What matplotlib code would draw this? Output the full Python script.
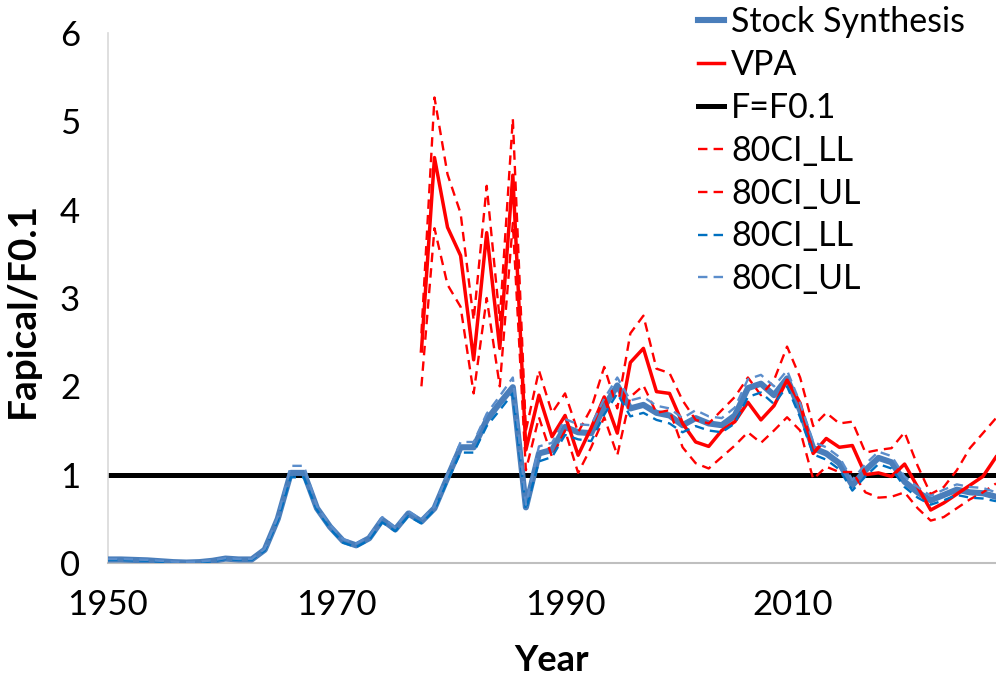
import matplotlib
matplotlib.use("Agg")
import matplotlib.pyplot as plt
import numpy as np

plt.rcParams['font.family'] = ['Lato', 'DejaVu Sans']

years = list(range(1950, 2019))
ss = [0.04, 0.04, 0.035, 0.03, 0.02, 0.01, 0.005, 0.01, 0.025, 0.05,
      0.04, 0.04, 0.15, 0.5, 1.02, 1.02, 0.62, 0.41, 0.25, 0.2,
      0.28, 0.49, 0.38, 0.56, 0.47, 0.62, 0.97, 1.31, 1.31, 1.62,
      1.81, 1.99, 0.63, 1.24, 1.28, 1.54, 1.48, 1.47, 1.77, 2.01,
      1.75, 1.79, 1.7, 1.67, 1.56, 1.64, 1.58, 1.56, 1.67, 1.98,
      2.03, 1.9, 2.09, 1.73, 1.3, 1.24, 1.13, 0.88, 1.05, 1.19,
      1.14, 0.92, 0.8, 0.71, 0.77, 0.83, 0.8, 0.79, 0.75]
ss_ll = [0.035, 0.035, 0.03, 0.025, 0.015, 0.005, 0.0, 0.005, 0.02, 0.045,
         0.035, 0.035, 0.14, 0.48, 0.97, 0.97, 0.6, 0.39, 0.23, 0.18,
         0.26, 0.46, 0.36, 0.53, 0.45, 0.6, 0.93, 1.25, 1.25, 1.55,
         1.73, 1.92, 0.6, 1.15, 1.2, 1.45, 1.4, 1.38, 1.68, 1.92,
         1.66, 1.7, 1.62, 1.58, 1.48, 1.55, 1.5, 1.48, 1.58, 1.88,
         1.93, 1.8, 2.0, 1.65, 1.23, 1.17, 1.06, 0.82, 0.98, 1.12,
         1.07, 0.86, 0.74, 0.66, 0.71, 0.77, 0.74, 0.73, 0.7]
ss_ul = [0.045, 0.045, 0.04, 0.035, 0.025, 0.015, 0.01, 0.015, 0.03, 0.055,
         0.045, 0.045, 0.16, 0.52, 1.1, 1.1, 0.64, 0.43, 0.27, 0.22,
         0.3, 0.52, 0.4, 0.59, 0.49, 0.64, 1.01, 1.37, 1.37, 1.69,
         1.89, 2.1, 0.66, 1.32, 1.36, 1.63, 1.57, 1.56, 1.86, 2.1,
         1.84, 1.88, 1.78, 1.75, 1.64, 1.73, 1.66, 1.64, 1.76, 2.08,
         2.13, 2.0, 2.18, 1.81, 1.37, 1.31, 1.2, 0.94, 1.12, 1.26,
         1.21, 0.98, 0.86, 0.76, 0.83, 0.89, 0.86, 0.85, 0.8]

vpa_years = list(range(1974, 2019))
vpa = [2.4, 4.59, 3.8, 3.48, 2.3, 3.74, 2.43, 4.39, 1.28, 1.9,
       1.43, 1.67, 1.22, 1.53, 1.88, 1.47, 2.27, 2.43, 1.94, 1.92,
       1.58, 1.37, 1.32, 1.5, 1.6, 1.82, 1.62, 1.78, 2.07, 1.81,
       1.24, 1.41, 1.31, 1.33, 1.0, 1.02, 0.98, 1.12, 0.86, 0.6,
       0.68, 0.78, 0.88, 0.98, 1.2]
vpa_ll = [2.0, 3.79, 3.15, 2.9, 1.92, 3.0, 2.0, 3.85, 1.05, 1.65,
          1.2, 1.5, 1.02, 1.31, 1.65, 1.22, 1.88, 2.01, 1.7, 1.73,
          1.31, 1.13, 1.07, 1.2, 1.33, 1.48, 1.36, 1.5, 1.65, 1.5,
          0.95, 1.09, 1.03, 1.03, 0.8, 0.74, 0.75, 0.8, 0.62, 0.48,
          0.52, 0.62, 0.72, 0.8, 0.9]
vpa_ul = [2.6, 5.27, 4.4, 3.96, 2.75, 4.27, 2.75, 5.03, 1.5, 2.18,
          1.7, 1.92, 1.48, 1.75, 2.22, 1.75, 2.6, 2.8, 2.2, 2.15,
          1.84, 1.62, 1.58, 1.73, 1.88, 2.1, 1.9, 2.07, 2.45, 2.1,
          1.55, 1.7, 1.58, 1.6, 1.25, 1.28, 1.3, 1.48, 1.1, 0.78,
          0.86, 1.05, 1.3, 1.47, 1.64]
f01 = [1.0] * len(years)

xtick_labels = ["1950", "1970", "1990", "2010"]
xtick_pos = [1950, 1967.5, 1985.0, 2002.4]
ytick_vals = [0, 1, 2, 3, 4, 5, 6]

W, H = 996, 678
fig = plt.figure(figsize=(W / 100, H / 100), dpi=100)
ax = fig.add_axes([108 / W, (H - 563) / H, (996 - 108) / W, (563 - 33) / H])

c_ss = '#4A7EBB'
l_ss, = ax.plot(years, ss, color=c_ss, lw=4.4, zorder=3, solid_joinstyle='round', label='Stock Synthesis')
l_vpa, = ax.plot(vpa_years, vpa, color='#FF0000', lw=2.5, zorder=4, label='VPA')
l_f, = ax.plot(years, f01, color='black', lw=3.6, zorder=2, label='F=F0.1')
dash = (0, (4, 2.6))
l1, = ax.plot(vpa_years, vpa_ll, color='#FF0000', lw=1.7, ls=dash, zorder=5, label='80CI_LL')
l2, = ax.plot(vpa_years, vpa_ul, color='#FF0000', lw=1.7, ls=dash, zorder=5, label='80CI_UL')
l3, = ax.plot(years, ss_ll, color='#0070C0', lw=1.7, ls=dash, zorder=5, label='80CI_LL')
l4, = ax.plot(years, ss_ul, color='#5B8DCB', lw=1.7, ls=dash, zorder=5, label='80CI_UL')

ax.set_xlim(1950, 2018)
ax.set_ylim(0, 6)
ax.set_xticks(xtick_pos)
ax.set_xticklabels(xtick_labels)
ax.set_yticks(ytick_vals)
ax.tick_params(axis='both', length=0, labelsize=25)
ax.tick_params(axis='x', pad=19)
ax.tick_params(axis='y', pad=20)
for s in ['top', 'right']:
    ax.spines[s].set_visible(False)
ax.spines['left'].set_color('#D9D9D9')
ax.spines['left'].set_linewidth(1.2)
ax.spines['bottom'].set_color('#BFBFBF')
ax.spines['bottom'].set_linewidth(1.5)

ax.set_xlabel('Year', fontsize=26, fontweight='bold')
ax.set_ylabel('Fapical/F0.1', fontsize=28, fontweight='bold')
ax.xaxis.set_label_coords(0.5, -0.152)
ax.yaxis.set_label_coords(-0.0766, 0.477)

leg = ax.legend(handles=[l_ss, l_vpa, l_f, l1, l2, l3, l4], loc='upper left',
                bbox_to_anchor=(698 / W, 1 - 6 / H), bbox_transform=fig.transFigure,
                frameon=False, fontsize=24.5, handlelength=0.75, handletextpad=0.22,
                labelspacing=0.32, borderpad=0, borderaxespad=0)
leg.set_zorder(10)

fig.savefig('out.png', dpi=100)
